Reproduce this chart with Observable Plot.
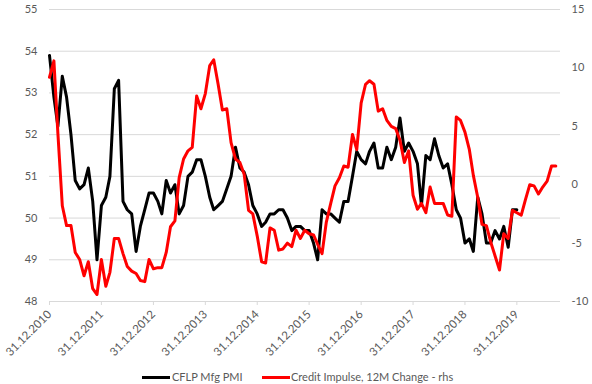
<!DOCTYPE html>
<html>
<head>
<meta charset="utf-8">
<script src="https://cdn.jsdelivr.net/npm/d3@7"></script>
<script src="https://cdn.jsdelivr.net/npm/@observablehq/plot@0.6"></script>
<style>
  html, body { margin: 0; padding: 0; background: #fff; }
  #chart { width: 592px; }
  .legend { position: relative; width: 592px; height: 22px; font-family: Lato, "Open Sans", sans-serif; font-size: 11px; color: #595959; }
  .legend .sw { position: absolute; height: 3px; top: 14px; }
  .legend .lb { position: absolute; top: 8px; line-height: 14px; white-space: nowrap; }
</style>
</head>
<body>
<div id="chart"></div>
<script>
// Monthly data, starting 31.12.2010
const pmiLabel = "CFLP Mfg PMI";
const impulseLabel = "Credit Impulse, 12M Change - rhs";

const pmiValues = [
  53.9, 52.9, 52.2, 53.4, 52.9, 52.0, 50.9, 50.7, 50.8, 51.2, 50.4, 49.0,
  50.3, 50.5, 51.0, 53.1, 53.3, 50.4, 50.2, 50.1, 49.2, 49.8, 50.2, 50.6,
  50.6, 50.4, 50.1, 50.9, 50.6, 50.8, 50.1, 50.3, 51.0, 51.1, 51.4, 51.4,
  51.0, 50.5, 50.2, 50.3, 50.4, 50.7, 51.0, 51.7, 51.2, 51.1, 50.8, 50.3,
  50.1, 49.8, 49.9, 50.1, 50.1, 50.2, 50.2, 50.0, 49.7, 49.8, 49.8, 49.7,
  49.7, 49.4, 49.0, 50.2, 50.1, 50.1, 50.0, 49.9, 50.4, 50.4, 51.0, 51.6,
  51.4, 51.3, 51.6, 51.8, 51.2, 51.2, 51.7, 51.4, 51.7, 52.4, 51.6, 51.8,
  51.6, 51.3, 50.3, 51.5, 51.4, 51.9, 51.5, 51.2, 51.3, 50.8, 50.2, 50.0,
  49.4, 49.5, 49.2, 50.5, 50.1, 49.4, 49.4, 49.7, 49.5, 49.8, 49.3, 50.2,
  50.2
];

const impulseValues = [
  9.2, 10.6, 4.4, -1.8, -3.5, -3.5, -5.8, -6.4, -7.8, -6.6, -8.9, -9.4,
  -6.4, -8.7, -7.5, -4.6, -4.6, -5.9, -7.0, -7.4, -7.6, -8.2, -8.3, -6.4,
  -7.2, -7.1, -7.1, -5.8, -3.6, -3.1, 0.6, 2.2, 2.9, 3.2, 7.6, 6.5,
  7.8, 10.2, 10.7, 8.6, 6.4, 6.5, 3.6, 2.2, 1.9, 0.9, -2.2, -2.5,
  -4.4, -6.6, -6.7, -3.7, -3.9, -5.6, -5.5, -5.0, -5.3, -3.9, -4.6, -3.9,
  -4.2, -4.3, -5.1, -5.9, -3.2, -1.6, -0.1, 0.6, 1.6, 1.5, 4.3, 3.0,
  7.0, 8.6, 8.9, 8.6, 6.3, 6.5, 5.5, 5.0, 4.8, 3.8, 1.9, 2.9,
  -0.9, -2.1, -1.6, -2.4, -0.2, -1.6, -1.6, -1.6, -2.6, -2.7, 5.8, 5.5,
  4.5, 3.0, 0.8, -1.1, -3.4, -3.5, -4.9, -6.1, -7.3, -4.2, -4.6, -2.2,
  -2.4, -2.6, -1.3, 0.0, -0.1, -0.8, -0.2, 0.3, 1.6, 1.6
];

const leftTicks = [48, 49, 50, 51, 52, 53, 54, 55];
const rightTicks = [-10, -5, 0, 5, 10, 15];
const tickYears = [2010, 2011, 2012, 2013, 2014, 2015, 2016, 2017, 2018, 2019];

// month-end date for index i (i = 0 -> 31.12.2010)
const monthEnd = i => new Date(Date.UTC(2010, 12 + i, 0));

// right axis [-10, 15] mapped onto left axis [48, 55]
const rToL = r => 48 + (r + 10) * 7 / 25;
const lToR = l => (l - 48) * 25 / 7 - 10;

const pmi = pmiValues.map((v, i) => ({date: monthEnd(i), value: v}));
const impulse = impulseValues.map((v, i) => ({date: monthEnd(i), value: rToL(v)}));
const xTicks = tickYears.map(y => new Date(Date.UTC(y, 11, 31)));

const fmt = d3.utcFormat("%d.%m.%Y");
const font = "Lato, 'Open Sans', sans-serif";
const textColor = "#595959";

const chart = Plot.plot({
  width: 592,
  height: 362,
  marginTop: 9,
  marginLeft: 49,
  marginRight: 32,
  marginBottom: 61,
  style: {fontFamily: font, fontSize: "11px", color: textColor, background: "#fff"},
  x: {type: "utc", domain: [new Date(Date.UTC(2010, 11, 31)), new Date(Date.UTC(2020, 10, 2))]},
  y: {domain: [48, 55]},
  marks: [
    Plot.gridY(leftTicks, {stroke: "#d9d9d9", strokeOpacity: 1, strokeWidth: 1}),
    Plot.axisY(leftTicks, {anchor: "left", tickSize: 0, tickPadding: 12, fill: textColor, label: null, fontSize: 11}),
    Plot.axisY(rightTicks.map(rToL), {anchor: "right", tickSize: 0, tickPadding: 11, fill: textColor, label: null, fontSize: 11,
      tickFormat: v => String(Math.round(lToR(v)))}),
    Plot.axisX(xTicks, {tickFormat: fmt, tickRotate: -45, tickSize: 4, stroke: "#d9d9d9", fill: textColor, label: null, fontSize: 11.5, tickPadding: 7}),
    Plot.lineY(pmi, {x: "date", y: "value", stroke: "#000000", strokeWidth: 3}),
    Plot.lineY(impulse, {x: "date", y: "value", stroke: "#ff0000", strokeWidth: 3})
  ]
});
document.getElementById("chart").appendChild(chart);

const legend = document.createElement("div");
legend.className = "legend";
legend.innerHTML = `
  <div class="sw" style="left:142px;width:28px;background:#000"></div>
  <div class="lb" style="left:172px">${pmiLabel}</div>
  <div class="sw" style="left:262px;width:28px;background:#ff0000"></div>
  <div class="lb" style="left:291px">${impulseLabel}</div>`;
document.getElementById("chart").appendChild(legend);
</script>
</body>
</html>
